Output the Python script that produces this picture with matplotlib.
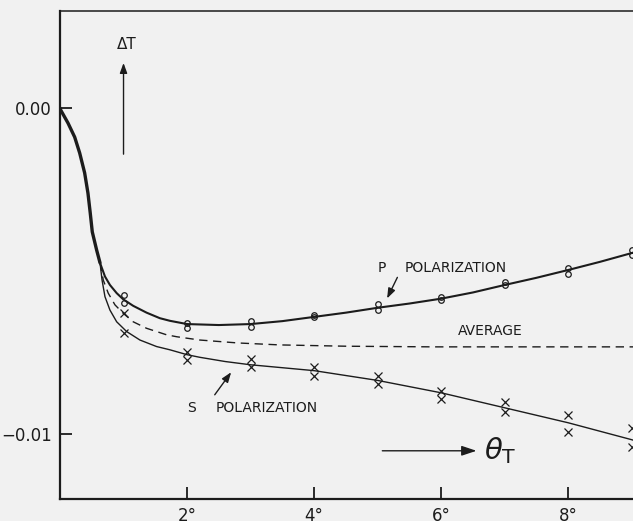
import matplotlib
matplotlib.use("Agg")
import matplotlib.pyplot as plt
import numpy as np

# values are Delta T in units of 1e-3, angles in degrees
TRUNK_X = [0, 0.011, 0.126, 0.231, 0.31, 0.388, 0.44, 0.476, 0.508, 0.577, 0.63]
TRUNK_Y = [0, -0.06, -0.46, -0.89, -1.38, -1.99, -2.61, -3.22, -3.80, -4.36, -4.75]

P_CURVE_X = [0.63, 0.708, 0.786, 0.892, 0.995, 1.152, 1.363, 1.572, 1.73, 2.0, 2.5,
             3.0, 3.5, 4.0, 4.5, 5.0, 5.5, 6.0, 6.5, 7.0, 7.5, 8.0, 8.5, 9.0, 9.05]
P_CURVE_Y = [-4.75, -5.17, -5.43, -5.68, -5.87, -6.07, -6.28, -6.45, -6.53, -6.63,
             -6.66, -6.63, -6.54, -6.41, -6.28, -6.13, -6.00, -5.85, -5.66, -5.43,
             -5.21, -4.97, -4.72, -4.45, -4.42]

AVG_CURVE_X = [0.63, 0.681, 0.759, 0.865, 0.995, 1.152, 1.363, 1.678, 1.84, 2.2,
               2.8, 3.46, 4.5, 5.87, 9.05]
AVG_CURVE_Y = [-4.75, -5.28, -5.68, -6.04, -6.30, -6.56, -6.76, -6.96, -7.02, -7.12,
               -7.21, -7.27, -7.31, -7.33, -7.33]

S_CURVE_X = [0.63, 0.662, 0.708, 0.786, 0.892, 1.049, 1.258, 1.52, 1.73, 2.0, 2.2,
             2.6, 3.0, 4.0, 5.0, 6.0, 7.0, 8.0, 9.0, 9.05]
S_CURVE_Y = [-4.75, -5.28, -5.79, -6.20, -6.56, -6.86, -7.12, -7.32, -7.42, -7.57,
             -7.65, -7.78, -7.88, -8.06, -8.36, -8.74, -9.20, -9.66, -10.18, -10.21]

P_PTS_X = [1, 1, 2, 2, 3, 3, 4, 4, 5, 5, 6, 6, 7, 7, 8, 8, 9, 9]
P_PTS_Y = [-5.74, -5.98, -6.60, -6.75, -6.53, -6.72, -6.36, -6.40, -6.01, -6.20,
           -5.80, -5.89, -5.34, -5.43, -4.91, -5.09, -4.36, -4.51]

S_PTS_X = [1, 1, 2, 2, 3, 3, 4, 4, 5, 5, 6, 6, 7, 7, 8, 8, 9, 9]
S_PTS_Y = [-6.29, -6.90, -7.48, -7.73, -7.70, -7.94, -7.94, -8.22, -8.22, -8.47,
           -8.68, -8.93, -9.02, -9.33, -9.42, -9.94, -9.82, -10.40]

X_TICKS = [2, 4, 6, 8]
X_TICK_LABELS = ["2°", "4°", "6°", "8°"]
Y_TICKS = [0, -10]
Y_TICK_LABELS = ["0.00", "\u22120.01"]

INK = "#1c1c1c"
PAPER = "#f1f1f1"


def main() -> None:
    fig = plt.figure(figsize=(6.33, 5.21), dpi=100, facecolor=PAPER)
    ax = fig.add_axes([60 / 633, 22 / 521, 573 / 633, 488 / 521], facecolor=PAPER)

    ax.plot(TRUNK_X, TRUNK_Y, color=INK, lw=2.4, solid_capstyle="round",
            solid_joinstyle="round")
    ax.plot(P_CURVE_X, P_CURVE_Y, color=INK, lw=1.5, solid_joinstyle="round")
    ax.plot(S_CURVE_X, S_CURVE_Y, color=INK, lw=1.0, solid_joinstyle="round")
    ax.plot(AVG_CURVE_X, AVG_CURVE_Y, color=INK, lw=1.0, dashes=(6, 4))

    ax.plot(P_PTS_X, P_PTS_Y, "o", ms=4, mfc="none", mec=INK, mew=0.9)
    ax.plot(S_PTS_X, S_PTS_Y, "x", ms=5.5, color=INK, mew=0.9)

    arrow = dict(arrowstyle="-|>,head_length=0.6,head_width=0.22", color=INK, lw=1.0)
    ax.annotate("", xy=(1.0, 1.47), xytext=(1.0, -1.5), arrowprops=arrow)
    ax.text(1.05, 1.96, "ΔT", fontsize=11, ha="center", va="center", color=INK)

    ax.text(5.0, -4.9, "P", fontsize=10, va="center", color=INK)
    ax.text(5.42, -4.9, "POLARIZATION", fontsize=10, va="center", color=INK)
    ax.annotate("", xy=(5.13, -5.92), xytext=(5.33, -5.12), arrowprops=arrow)

    ax.text(6.78, -6.84, "AVERAGE", fontsize=10, ha="center", va="center", color=INK)

    ax.text(2.0, -9.2, "S", fontsize=10, va="center", color=INK)
    ax.text(2.45, -9.2, "POLARIZATION", fontsize=10, va="center", color=INK)
    ax.annotate("", xy=(2.72, -8.04), xytext=(2.41, -8.87), arrowprops=arrow)

    ax.annotate("", xy=(6.6, -10.52), xytext=(5.03, -10.52),
                arrowprops=dict(arrowstyle="-|>,head_length=0.9,head_width=0.3",
                                color=INK, lw=1.0))
    ax.text(6.68, -10.52, r"$\theta_{\rm T}$", fontsize=21, va="center", color=INK)

    ax.set_xlim(0, 9.02)
    ax.set_ylim(-12.0, 2.98)
    ax.set_xticks(X_TICKS)
    ax.set_xticklabels(X_TICK_LABELS)
    ax.set_yticks(Y_TICKS)
    ax.set_yticklabels(Y_TICK_LABELS)
    ax.tick_params(direction="in", length=8.5, width=1.3, labelsize=12,
                   colors=INK, pad=6)

    ax.spines["right"].set_visible(False)
    ax.spines["left"].set_linewidth(1.6)
    ax.spines["bottom"].set_linewidth(1.6)
    ax.spines["top"].set_linewidth(1.1)
    for side in ("left", "bottom", "top"):
        ax.spines[side].set_color(INK)

    fig.savefig("out.png", dpi=100, facecolor=PAPER)


if __name__ == "__main__":
    main()
